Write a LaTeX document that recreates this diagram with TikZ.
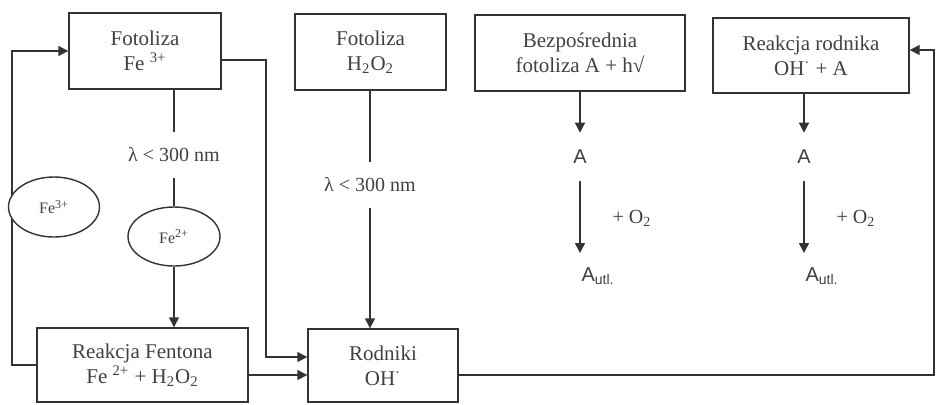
\documentclass[tikz,border=0pt]{standalone}
\usepackage{fontspec}
\setmainfont{Liberation Serif}
\setsansfont{Liberation Sans}
\usetikzlibrary{arrows.meta,positioning,shapes.geometric}
\tikzset{
  box/.style={draw=black!80, line width=0.7pt, align=center, inner sep=2pt, font=\fontsize{10.5}{12.5}\selectfont, text=black!75},
  oval/.style={ellipse, draw=black!80, fill=white, line width=0.7pt, inner sep=0pt, font=\fontsize{8}{9}\selectfont, text=black!75},
  arrow/.style={-{Triangle[length=5pt,width=5pt]}, line width=0.7pt, draw=black!80},
  plainline/.style={line width=0.7pt, draw=black!80},
  lamlabel/.style={font=\fontsize{10}{12}\selectfont, text=black!75, inner xsep=1pt, inner ysep=7.5pt},
  species/.style={font=\sffamily\fontsize{10}{12}\selectfont, text=black!75, inner xsep=1pt, inner ysep=8.5pt},
  oxy/.style={font=\fontsize{10}{12}\selectfont, text=black!75, inner sep=1pt}
}
\begin{document}
\begin{tikzpicture}[x=0.5pt,y=-0.5pt]
\useasboundingbox (0,0) rectangle (936,404);
% boxes
\node[box, minimum width=76pt, minimum height=38pt] (fe3box) at (145,51) {Fotoliza\\Fe \textsuperscript{3+}};
\node[box, minimum width=75.5pt, minimum height=38pt] (h2o2box) at (370.5,52) {Fotoliza\\H\textsubscript{2}O\textsubscript{2}};
\node[box, minimum width=105pt, minimum height=38pt] (bezbox) at (580,53) {Bezpośrednia\\fotoliza A + h√};
\node[box, minimum width=98pt, minimum height=37.5pt] (radbox) at (811,55.5) {Reakcja rodnika\\OH\textsuperscript{·} + A};
\node[box, minimum width=105.5pt, minimum height=37pt] (fentonbox) at (142.5,365) {Reakcja Fentona\\Fe \textsuperscript{2+} + H\textsubscript{2}O\textsubscript{2}};
\node[box, minimum width=75pt, minimum height=36.5pt] (ohbox) at (383,365.5) {Rodniki\\OH\textsuperscript{·}};
\coordinate (loopx) at (12,0);
\coordinate (rightx) at (266,0);
\coordinate (farx) at (934,0);

% iron cycle
\draw[arrow] (fentonbox.west) -| (loopx |- fe3box.west) -- (fe3box.west);
\node[oval, minimum width=45.5pt, minimum height=30pt] (fe3ell) at (54,207) {Fe\textsuperscript{3+}};
\node[lamlabel] (lam1) at (174,155) {λ < 300 nm};
\node[oval, minimum width=46pt, minimum height=29.5pt] (fe2ell) at (174,236.5) {Fe\textsuperscript{2+}};
\draw[plainline] (lam1 |- fe3box.south) -- (lam1);
\draw[plainline] (lam1) -- (fe2ell);
\draw[arrow] (fe2ell) -- (fe2ell |- fentonbox.north);
\draw[arrow] ([yshift=-4.5pt]fe3box.east) -- ([yshift=-4.5pt]fe3box.east -| rightx) |- ([yshift=4.25pt]ohbox.west);
\draw[arrow] ([yshift=-5pt]fentonbox.east) -- ([yshift=-5pt]fentonbox.east -| ohbox.west);

% H2O2 photolysis
\node[lamlabel] (lam2) at (370,185) {λ < 300 nm};
\draw[plainline] (lam2 |- h2o2box.south) -- (lam2);
\draw[arrow] (lam2) -- (lam2 |- ohbox.north);

% radicals back to reaction
\draw[arrow] ([yshift=-4.75pt]ohbox.east) -| ([yshift=2.75pt]radbox.east -| farx) -- ([yshift=2.75pt]radbox.east);

% direct photolysis
\node[species] (a1) at (580,157) {A};
\node[species, inner ysep=7pt] (autl1) at (598,276) {A\textsubscript{utl.}};
\node[oxy] (o2a) at (632,218) {+ O\textsubscript{2}};
\draw[arrow] (a1 |- bezbox.south) -- (a1);
\draw[arrow] (a1) -- (a1 |- autl1.north);

% radical reaction
\node[species] (a2) at (804,157) {A};
\node[species, inner ysep=7pt] (autl2) at (822,276) {A\textsubscript{utl.}};
\node[oxy] (o2b) at (856,218) {+ O\textsubscript{2}};
\draw[arrow] (a2 |- radbox.south) -- (a2);
\draw[arrow] (a2) -- (a2 |- autl2.north);
\end{tikzpicture}
\end{document}
